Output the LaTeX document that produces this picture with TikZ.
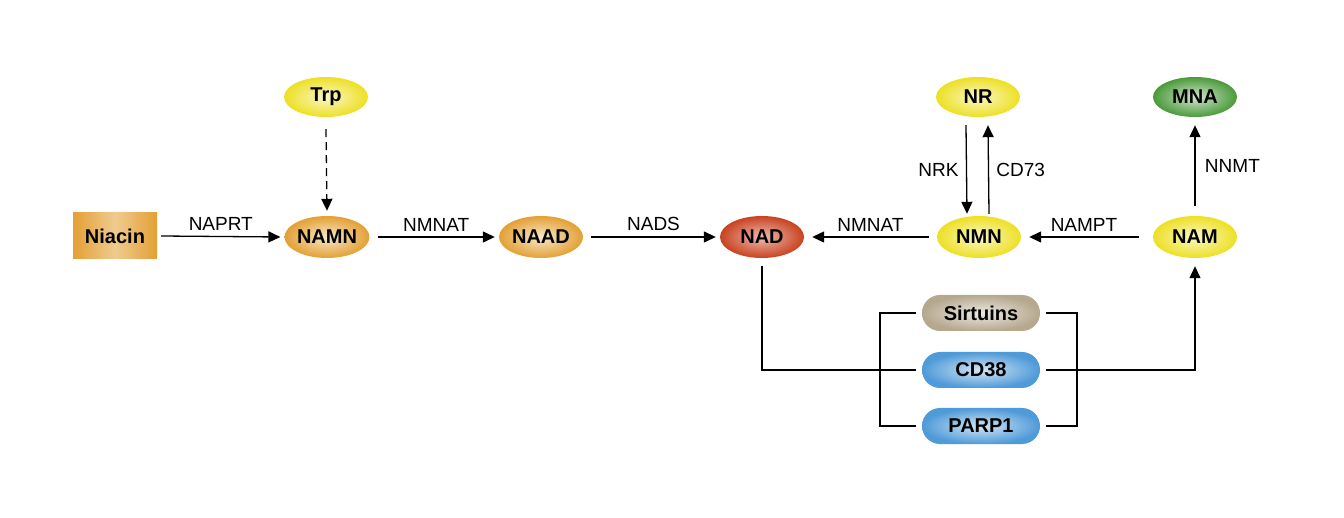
\documentclass[tikz,border=0pt]{standalone}
\usepackage{fontspec}
\setmainfont{Liberation Sans}
\usetikzlibrary{shapes.geometric,shapes.misc,arrows.meta,calc}
\definecolor{orng}{HTML}{E3A034}
\definecolor{nadred}{HTML}{C9421F}
\definecolor{ylw}{HTML}{EDE024}
\definecolor{grn}{HTML}{4A9A3A}
\definecolor{beig}{HTML}{B5A88E}
\definecolor{blu}{HTML}{4F9AD8}
\begin{document}
\begin{tikzpicture}[x=1pt,y=-1pt,
 met/.style={ellipse,minimum width=84pt,minimum height=42pt,inner sep=0pt,font=\fontsize{20}{24}\selectfont\bfseries},
 enz/.style={rounded rectangle,minimum width=118pt,minimum height=36pt,inner sep=0pt,font=\fontsize{20}{24}\selectfont\bfseries},
 lbl/.style={font=\fontsize{19}{22}\selectfont},
 arr/.style={-{Triangle[length=12pt,width=11pt]},line width=1.3pt},
 ln/.style={line width=1.3pt},
 sh/.style={shading=radial,inner color=#1!25,outer color=#1}]
\useasboundingbox (0,0) rectangle (1344,518);
\node[rectangle,minimum width=84pt,minimum height=46pt,inner sep=0pt,font=\fontsize{20}{24}\selectfont\bfseries,shading=axis,left color=orng,right color=orng,middle color=orng!55,shading angle=90] (niacin) at (115,236) {Niacin};
\node[met,sh=orng] (namn) at (327,237) {NAMN};
\node[met,sh=orng] (naad) at (541,237) {NAAD};
\node[met,sh=nadred,inner color=nadred!35] (nad) at (762,237) {NAD};
\node[met,sh=ylw] (nmn) at (979,237) {NMN};
\node[met,sh=ylw] (nam) at (1195,237) {NAM};
\node[met,sh=ylw,minimum height=40pt] (trp) at (326,97) {Trp};
\node[met,sh=ylw,minimum height=40pt] (nr) at (978,97) {NR};
\node[met,sh=grn,minimum height=40pt] (mna) at (1195,97) {MNA};
\node[enz,sh=beig] (sirt) at (981,313) {Sirtuins};
\node[enz,sh=blu] (cd38) at (981,370) {CD38};
\node[enz,sh=blu] (parp) at (981,426) {PARP1};
\draw[arr] ($(niacin.east)+(4,0)$) -- node[lbl,above=2pt]{NAPRT} ($(namn.west)+(-4,0)$);
\draw[arr] ($(namn.east)+(8,0)$) -- node[lbl,above=2pt]{NMNAT} ($(naad.west)+(-4,0)$);
\draw[arr] ($(naad.east)+(8,0)$) -- node[lbl,above=2pt]{NADS} ($(nad.west)+(-4,0)$);
\draw[arr] ($(nmn.west)+(-8,0)$) -- node[lbl,above=2pt]{NMNAT} ($(nad.east)+(8,0)$);
\draw[arr] ($(nam.west)+(-14,0)$) -- node[lbl,above=2pt]{NAMPT} ($(nmn.east)+(8,0)$);
\draw[arr,dashed,dash pattern=on 8pt off 5pt] ($(trp.south)+(0,12)$) -- ($(namn.north)+(0,-5)$);
\draw[arr] ($(nr.south)+(-12,8)$) -- node[lbl,left=4pt]{NRK} ($(nmn.north)+(-12,-2)$);
\draw[arr] ($(nmn.north)+(10,-2)$) -- node[lbl,right=4pt]{CD73} ($(nr.south)+(10,8)$);
\draw[arr] ($(nam.north)+(0,-10)$) -- node[lbl,right=6pt]{NNMT} ($(mna.south)+(0,8)$);
\coordinate (lb) at (880,0);
\coordinate (rb) at (1077,0);
\draw[ln] ($(nad.south)+(0,8)$) |- ($(cd38.west)+(-6,0)$);
\draw[arr] ($(cd38.east)+(6,0)$) -| ($(nam.south)+(0,8)$);
\draw[ln] ($(sirt.west)+(-6,0)$) -| (lb |- parp.west) -- ($(parp.west)+(-6,0)$);
\draw[ln] ($(sirt.east)+(6,0)$) -| (rb |- parp.east) -- ($(parp.east)+(6,0)$);
\end{tikzpicture}
\end{document}
